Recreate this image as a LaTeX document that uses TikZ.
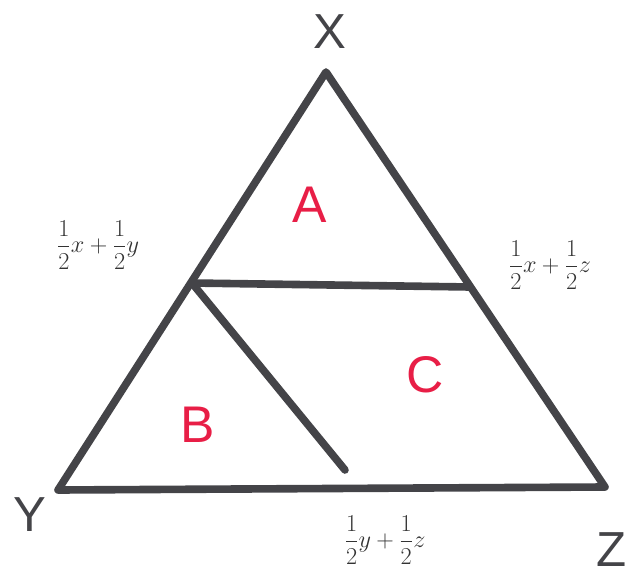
\documentclass[tikz,border=0pt]{standalone}
\usepackage{fontspec}
\setmainfont{Liberation Sans}
\definecolor{pen}{RGB}{68,68,72}
\definecolor{ink}{RGB}{232,30,70}
\tikzset{
edge/.style = {line width = 6.5pt, draw = pen, line cap = round, line join = round},
corner/.style = {text = pen, font = \fontsize{42}{46}\selectfont},
region/.style = {text = ink, font = \fontsize{44}{48}\selectfont},
mid/.style = {text = black!80, inner sep = 1pt, font = \fontsize{22}{26}\selectfont}
}
\begin{document}
\begin{tikzpicture}[x = 0.03cm, y = -0.03cm]
\useasboundingbox (0,0) rectangle (631,579);
% corners of the triangle
\coordinate (x) at (326,72);
\coordinate (y) at (58,490);
\coordinate (z) at (605,487);
\coordinate (xy) at (192,283);
\coordinate (xz) at (470,287);
\coordinate (cut) at (345,470);
\draw [edge] (x) -- (y) -- (z) -- cycle;
\draw [edge] (xy) -- (xz);
\draw [edge] (xy) -- (cut);
% vertex names
\node [corner] (lx) at (330,32) {X};
\node [corner] (ly) at (30,515) {Y};
\node [corner] (lz) at (612,550) {Z};
% midpoints
\node [mid] (mxy) at (98,245) {$\displaystyle\frac{1}{2}x+\frac{1}{2}y$};
\node [mid] (mxz) at (550,265) {$\displaystyle\frac{1}{2}x+\frac{1}{2}z$};
\node [mid] (myz) at (385,540) {$\displaystyle\frac{1}{2}y+\frac{1}{2}z$};
% regions
\node [region] (ra) at (310,205) {A};
\node [region] (rb) at (198,425) {B};
\node [region] (rc) at (425,375) {C};
\end{tikzpicture}
\end{document}
